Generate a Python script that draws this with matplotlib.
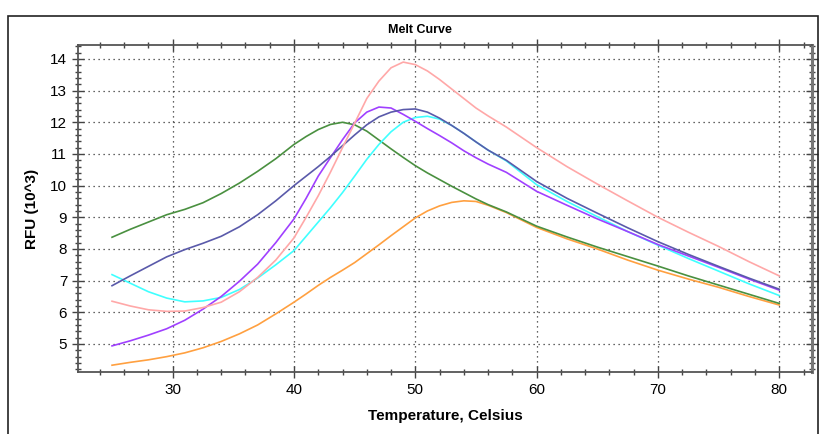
import matplotlib
matplotlib.use("Agg")
import matplotlib.pyplot as plt
from matplotlib.ticker import MultipleLocator
from matplotlib.patches import Rectangle

plt.rcParams['font.family'] = ['Liberation Sans', 'DejaVu Sans']

temperature = [25, 26.5, 28, 29.5, 31, 32.5, 34, 35.5, 37, 38.5, 40, 41, 42, 43, 44, 45, 46, 47,
               48, 49, 50, 51, 52, 53, 54, 55, 56, 57.5, 60, 62.5, 65, 67.5, 70, 72.5, 75, 77.5, 80]

green = [8.37, 8.62, 8.85, 9.08, 9.25, 9.46, 9.75, 10.08, 10.45, 10.85, 11.3, 11.55, 11.77, 11.93,
         12.0, 11.92, 11.72, 11.44, 11.16, 10.89, 10.63, 10.4, 10.19, 9.98, 9.78, 9.58, 9.4, 9.17,
         8.72, 8.38, 8.06, 7.76, 7.46, 7.15, 6.86, 6.57, 6.28]
slate = [6.84, 7.15, 7.45, 7.75, 7.98, 8.18, 8.4, 8.7, 9.08, 9.52, 10.0, 10.3, 10.6, 10.92, 11.26,
         11.6, 11.92, 12.17, 12.32, 12.4, 12.42, 12.32, 12.13, 11.9, 11.65, 11.38, 11.12, 10.8,
         10.13, 9.6, 9.13, 8.67, 8.23, 7.83, 7.45, 7.08, 6.73]
purple = [4.94, 5.1, 5.28, 5.48, 5.75, 6.1, 6.5, 6.98, 7.52, 8.2, 8.95, 9.6, 10.3, 10.88, 11.45,
          11.98, 12.32, 12.48, 12.45, 12.25, 12.03, 11.8, 11.58, 11.35, 11.1, 10.88, 10.68, 10.42,
          9.82, 9.38, 8.95, 8.55, 8.14, 7.78, 7.42, 7.05, 6.7]
pink = [6.35, 6.2, 6.08, 6.03, 6.04, 6.15, 6.32, 6.65, 7.1, 7.65, 8.35, 9.0, 9.68, 10.42, 11.2,
        11.97, 12.75, 13.3, 13.72, 13.9, 13.82, 13.62, 13.35, 13.05, 12.75, 12.45, 12.2, 11.85,
        11.2, 10.6, 10.05, 9.52, 9.0, 8.53, 8.08, 7.6, 7.15]
cyan = [7.19, 6.92, 6.65, 6.45, 6.33, 6.36, 6.47, 6.72, 7.08, 7.5, 7.95, 8.4, 8.85, 9.3, 9.78,
        10.3, 10.83, 11.3, 11.7, 12.0, 12.15, 12.19, 12.1, 11.9, 11.65, 11.38, 11.12, 10.78,
        10.03, 9.5, 9.02, 8.55, 8.12, 7.7, 7.3, 6.9, 6.53]
orange = [4.33, 4.42, 4.5, 4.6, 4.72, 4.88, 5.08, 5.32, 5.6, 5.95, 6.32, 6.58, 6.85, 7.1, 7.33,
          7.57, 7.85, 8.13, 8.42, 8.7, 8.98, 9.2, 9.36, 9.47, 9.52, 9.5, 9.38, 9.15, 8.68, 8.32,
          8.0, 7.65, 7.33, 7.05, 6.79, 6.5, 6.23]

series = [
    (orange, '#ffa040'),
    (green, '#4a9040'),
    (cyan, '#40ffff'),
    (purple, '#a040ff'),
    (slate, '#5a5aaa'),
    (pink, '#ffa8a8'),
]

W, H = 824, 434
fig = plt.figure(figsize=(W / 100, H / 100), dpi=100)
fig.patch.set_facecolor('white')

# outer frame (open at bottom)
fig.add_artist(Rectangle((8 / W, -0.05), (818 - 8) / W, 1.05 - 15.5 / H,
                         transform=fig.transFigure, fill=False, edgecolor='#222222', lw=1.2))

left, right, top, bottom = 78.3, 812, 45.3, 371.7
ax = fig.add_axes([left / W, 1 - bottom / H, (right - left) / W, (bottom - top) / H])

for vals, col in series:
    ax.plot(temperature, vals, color=col, lw=1.2)

ax.set_xlim(22.22, 82.7)
ax.set_ylim(4.125, 14.43)
ax.xaxis.set_minor_locator(MultipleLocator(2))
ax.yaxis.set_minor_locator(MultipleLocator(0.2))
ax.set_xticks(range(30, 81, 10))
ax.set_yticks(range(5, 15))

ax.grid(True, which='major', color='#333333', linestyle=(0, (1, 3)), lw=0.9)
ax.tick_params(which='major', direction='inout', length=8, width=1, color='#444444',
               top=True, right=True, labelsize=11, pad=4)
ax.tick_params(which='minor', direction='inout', length=5, width=1, color='#444444',
               top=True, right=True)
for s in ax.spines.values():
    s.set_color('#555555')
    s.set_linewidth(1.3)
ax.spines['right'].set_linewidth(2.2)
ax.spines['right'].set_color('#777777')

ax.set_xlabel('Temperature, Celsius', fontsize=11, fontweight='bold', labelpad=9)
ax.set_ylabel('RFU (10^3)', fontsize=11, fontweight='bold', labelpad=8)
fig.text(420 / W, 1 - 30 / H, 'Melt Curve', ha='center', va='center', fontsize=9,
         fontweight='bold')

fig.savefig('out.png', dpi=100, facecolor='white')
